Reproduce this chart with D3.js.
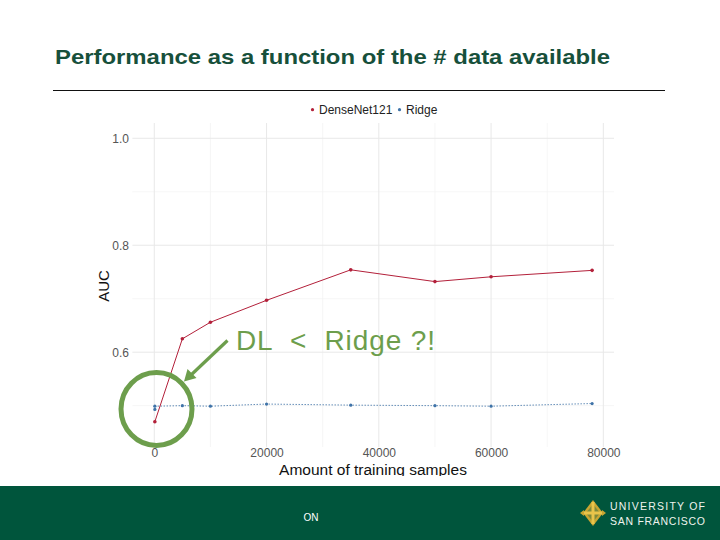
<!DOCTYPE html>
<html>
<head>
<meta charset="utf-8">
<script src="https://cdn.jsdelivr.net/npm/d3@7"></script>
<style>
  html, body { margin: 0; padding: 0; background: #fff; }
  svg { display: block; }
  text { font-family: "Liberation Sans", Arial, sans-serif; }
</style>
</head>
<body>
<svg id="chart" width="720" height="540"></svg>
<script>
// ---- data ----
const seriesNames = ["DenseNet121", "Ridge"];
const densenetSamples = [100, 5000, 10000, 20000, 35000, 50000, 60000, 78000];
const densenetAUC     = [0.470, 0.625, 0.656, 0.697, 0.754, 0.732, 0.741, 0.753];
const ridgeSamples    = [100, 100, 5000, 10000, 20000, 35000, 50000, 60000, 78000];
const ridgeAUC        = [0.493, 0.499, 0.500, 0.499, 0.503, 0.501, 0.500, 0.499, 0.504];
const xMajorTicks = [0, 20000, 40000, 60000, 80000];
const xMinorTicks = [10000, 30000, 50000, 70000];
const yMajorTicks = [0.6, 0.8, 1.0];
const yMinorTicks = [0.5, 0.7, 0.9];
const titleText = "Performance as a function of the # data available";
const xTitle = "Amount of training samples";
const yTitle = "AUC";
const annotationText = "DL  <  Ridge ?!";

const colors = { DenseNet121: "#b3203a", Ridge: "#3f73a8" };
const green = "#6d9e4c";

const svg = d3.select("#chart");

// ---- slide title ----
svg.append("text").attr("x", 55).attr("y", 63.5)
  .attr("font-size", 21).attr("font-weight", "bold").attr("fill", "#17503b")
  .attr("textLength", 555).attr("lengthAdjust", "spacingAndGlyphs")
  .text(titleText);
svg.append("line").attr("x1", 53).attr("x2", 665).attr("y1", 90.5).attr("y2", 90.5)
  .attr("stroke", "#111").attr("stroke-width", 1.2);

// ---- scales ----
const x = d3.scaleLinear().domain([-3900, 81900]).range([132.4, 614]);
const y = d3.scaleLinear().domain([0.4227, 1.0286]).range([447, 123]);
const [py1, py0] = y.range();

svg.append("defs").append("clipPath").attr("id", "imgclip")
  .append("rect").attr("x", 85).attr("y", 95).attr("width", 560).attr("height", 381);
const g = svg.append("g").attr("clip-path", "url(#imgclip)");

// grid
const grid = g.append("g");
grid.selectAll(".xminor").data(xMinorTicks).join("line")
  .attr("x1", d => x(d)).attr("x2", d => x(d)).attr("y1", py0).attr("y2", py1)
  .attr("stroke", "#f2f2f2").attr("stroke-width", 0.7);
grid.selectAll(".yminor").data(yMinorTicks).join("line")
  .attr("y1", d => y(d)).attr("y2", d => y(d)).attr("x1", x.range()[0]).attr("x2", x.range()[1])
  .attr("stroke", "#f2f2f2").attr("stroke-width", 0.7);
grid.selectAll(".xmajor").data(xMajorTicks).join("line")
  .attr("x1", d => x(d)).attr("x2", d => x(d)).attr("y1", py0).attr("y2", py1)
  .attr("stroke", "#e8e8e8").attr("stroke-width", 1);
grid.selectAll(".ymajor").data(yMajorTicks).join("line")
  .attr("y1", d => y(d)).attr("y2", d => y(d)).attr("x1", x.range()[0]).attr("x2", x.range()[1])
  .attr("stroke", "#e8e8e8").attr("stroke-width", 1);

// axes (labels only, theme_minimal style)
const yAxis = d3.axisLeft(y).tickValues(yMajorTicks).tickFormat(d3.format(".1f")).tickSize(0).tickPadding(0);
g.append("g").attr("transform", "translate(129,0)").call(yAxis)
  .call(a => a.select(".domain").remove())
  .call(a => a.selectAll("text").attr("font-size", 12).attr("fill", "#555").attr("font-family", "Liberation Sans, Arial, sans-serif"));
const xAxis = d3.axisBottom(x).tickValues(xMajorTicks).tickFormat(d3.format("d")).tickSize(0).tickPadding(0);
g.append("g").attr("transform", "translate(0,448)").call(xAxis)
  .call(a => a.select(".domain").remove())
  .call(a => a.selectAll("text").attr("font-size", 12).attr("fill", "#555").attr("dy", "0.75em").attr("font-family", "Liberation Sans, Arial, sans-serif"));

g.append("text").attr("x", 373).attr("y", 475).attr("text-anchor", "middle")
  .attr("font-size", 15.5).attr("fill", "#111").text(xTitle);
g.append("text").attr("transform", "translate(109,286) rotate(-90)").attr("text-anchor", "middle")
  .attr("font-size", 15).attr("fill", "#111").text(yTitle);

// lines
const line = d3.line().x(d => x(d[0])).y(d => y(d[1]));
const dn = densenetSamples.map((s, i) => [s, densenetAUC[i]]);
const rd = ridgeSamples.map((s, i) => [s, ridgeAUC[i]]);
g.append("path").datum(rd).attr("d", line).attr("fill", "none")
  .attr("stroke", colors.Ridge).attr("stroke-width", 1).attr("stroke-dasharray", "1.2,1.8");
g.append("path").datum(dn).attr("d", line).attr("fill", "none")
  .attr("stroke", colors.DenseNet121).attr("stroke-width", 1);
g.selectAll(".rp").data(rd).join("circle").attr("cx", d => x(d[0])).attr("cy", d => y(d[1]))
  .attr("r", 1.6).attr("fill", colors.Ridge);
g.selectAll(".dp").data(dn).join("circle").attr("cx", d => x(d[0])).attr("cy", d => y(d[1]))
  .attr("r", 1.8).attr("fill", colors.DenseNet121);

// legend
const leg = g.append("g");
const legItems = [
  { name: seriesNames[0], dot: 312.5, tx: 319 },
  { name: seriesNames[1], dot: 399.5, tx: 406 }
];
legItems.forEach(it => {
  leg.append("circle").attr("cx", it.dot).attr("cy", 109.7).attr("r", 1.6).attr("fill", colors[it.name]);
  leg.append("text").attr("x", it.tx).attr("y", 113.8).attr("font-size", 12).attr("fill", "#222").text(it.name);
});

// annotation
svg.append("ellipse").attr("cx", 156.5).attr("cy", 409).attr("rx", 35.5).attr("ry", 36.5)
  .attr("fill", "none").attr("stroke", green).attr("stroke-width", 5);
svg.append("line").attr("x1", 227.5).attr("y1", 340.5).attr("x2", 191).attr("y2", 375)
  .attr("stroke", green).attr("stroke-width", 3.2);
svg.append("path").attr("d", "M184,381.5 L187.5,369 L196.5,378 Z").attr("fill", green);
svg.append("text").attr("x", 236).attr("y", 349.5).attr("font-size", 28).attr("fill", green)
  .attr("textLength", 199).attr("lengthAdjust", "spacing")
  .style("white-space", "pre").text(annotationText);

// footer
svg.append("rect").attr("x", 0).attr("y", 486).attr("width", 720).attr("height", 54).attr("fill", "#00553c");
svg.append("text").attr("x", 311).attr("y", 521).attr("text-anchor", "middle")
  .attr("font-size", 10).attr("fill", "#fff").attr("font-family", "Open Sans, sans-serif").text("ON");
const logo = svg.append("g").attr("transform", "translate(593,513)");
logo.append("path").attr("d", "M0,-13 L10,0 L0,13 L-10,0 Z").attr("fill", "#c8a532");
logo.append("path").attr("d", "M0,-9 L7,0 L0,9 L-7,0 Z").attr("fill", "#7f8a3a");
logo.append("path").attr("d", "M-1.5,-11 h3 v9.5 h9 v3 h-9 v9.5 h-3 v-9.5 h-9 v-3 h9 Z").attr("fill", "#e9c44a");
logo.append("path").attr("d", "M-13,0 L-9,-3 L-9,3 Z M13,0 L9,-3 L9,3 Z").attr("fill", "#c8a532");
svg.append("text").attr("x", 610).attr("y", 510).attr("font-size", 10.5).attr("fill", "#eef3ee")
  .attr("font-family", "Open Sans, sans-serif").attr("textLength", 95).attr("lengthAdjust", "spacing").text("UNIVERSITY OF");
svg.append("text").attr("x", 610).attr("y", 525).attr("font-size", 10.5).attr("fill", "#eef3ee")
  .attr("font-family", "Open Sans, sans-serif").attr("textLength", 95).attr("lengthAdjust", "spacing").text("SAN FRANCISCO");
</script>
</body>
</html>
